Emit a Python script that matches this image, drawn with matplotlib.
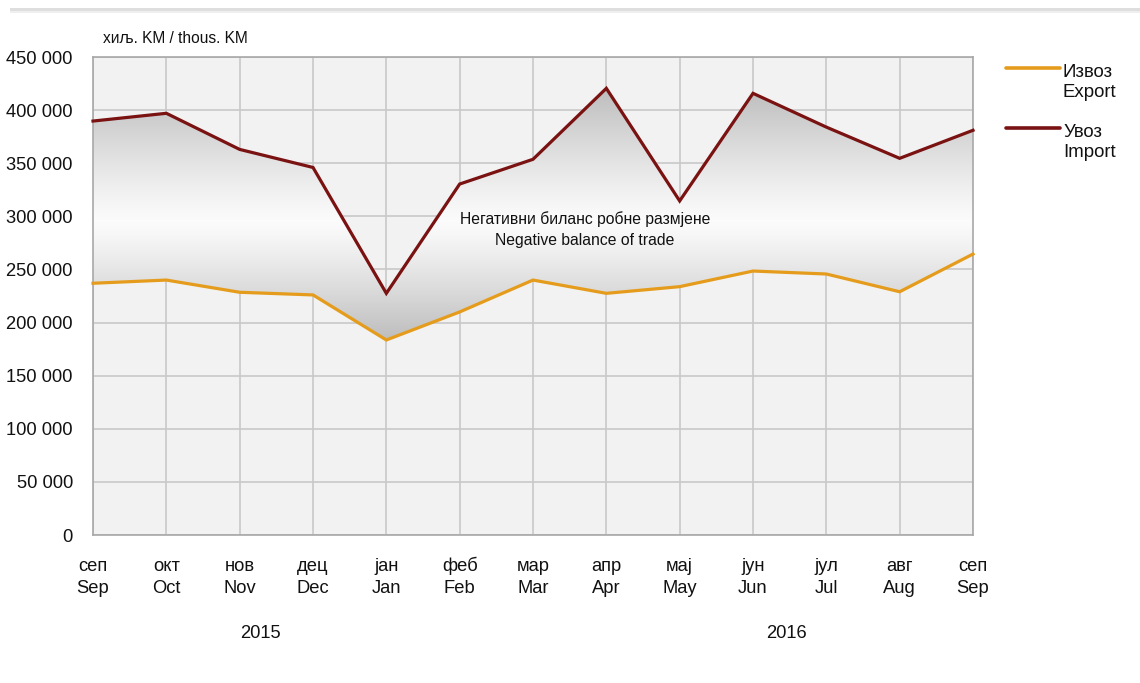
import matplotlib
matplotlib.use("Agg")
import matplotlib.pyplot as plt
import numpy as np
from matplotlib.lines import Line2D
from matplotlib.patches import Rectangle
import matplotlib.transforms as mtransforms

# ---- data ----
months_sr = ["сеп", "окт", "нов", "дец", "јан", "феб", "мар", "апр", "мај", "јун", "јул", "авг", "сеп"]
months_en = ["Sep", "Oct", "Nov", "Dec", "Jan", "Feb", "Mar", "Apr", "May", "Jun", "Jul", "Aug", "Sep"]
export_vals = [237000, 240000, 228500, 226000, 183600, 210000, 240000, 227500, 233800, 248500, 245700, 229000, 264500]
import_vals = [389700, 397000, 363000, 346000, 227500, 330400, 353700, 420500, 314500, 415800, 384000, 354600, 381000]
y_ticks = [0, 50000, 100000, 150000, 200000, 250000, 300000, 350000, 400000, 450000]
y_tick_labels = ["0", "50 000", "100 000", "150 000", "200 000", "250 000", "300 000", "350 000", "400 000", "450 000"]
years = ["2015", "2016"]
year_pos = [2.28, 9.45]

FONT = ["Liberation Sans", "DejaVu Sans"]
plt.rcParams["font.family"] = FONT

W, H = 1140, 683
fig = plt.figure(figsize=(W / 100, H / 100), dpi=100)
fig.patch.set_facecolor("white")
ax = fig.add_axes([93 / W, 1 - 535 / H, (973 - 93) / W, (535 - 57) / H])
ax.set_facecolor("#f2f2f2")

x = np.arange(len(months_en))
ax.set_xlim(0, len(x) - 1)
ax.set_ylim(0, 450000)
ax.set_yticks(y_ticks)
ax.set_yticklabels(y_tick_labels)
ax.set_xticks(x)
ax.set_xticklabels([f"{a}\n{b}" for a, b in zip(months_sr, months_en)], linespacing=1.4)
ax.tick_params(axis="both", length=0, labelsize=13.2, colors="#111111")
ax.tick_params(axis="y", pad=14.5)
ax.tick_params(axis="x", pad=41.8)
for lbl in ax.get_xticklabels():
    lbl.set_verticalalignment("baseline")
ax.grid(True, color="#c8c8c8", linewidth=1.2)
ax.set_axisbelow(True)
for s in ax.spines.values():
    s.set_color("#a8a8a8")
    s.set_linewidth(1.2)

# gradient fill between the lines
poly = ax.fill_between(x, export_vals, import_vals, facecolor="none", edgecolor="none", zorder=2)
ylo, yhi = min(export_vals), max(import_vals)
yc = 295000
yy = np.linspace(ylo, yhi, 400)
d = np.where(yy < yc, (yc - yy) / (yc - ylo), (yy - yc) / (yhi - yc))
g = 0.985 - (0.985 - 0.74) * d ** 1.2
img = np.dstack([g, g, g]).reshape(400, 1, 3)
im = ax.imshow(img, extent=[0, len(x) - 1, ylo, yhi], origin="lower", aspect="auto",
               interpolation="bilinear", zorder=2)
im.set_clip_path(poly.get_paths()[0], transform=ax.transData)
ax.set_xlim(0, len(x) - 1)
ax.set_ylim(0, 450000)

c_exp = "#e59c1c"
c_imp = "#7a1212"
ax.plot(x, export_vals, color=c_exp, linewidth=2.3, zorder=3, solid_joinstyle="miter", clip_on=False)
ax.plot(x, import_vals, color=c_imp, linewidth=2.3, zorder=3, solid_joinstyle="miter", clip_on=False)

ax.text(6.71, 287500, "Негативни биланс робне размјене\nNegative balance of trade",
        ha="center", va="center", fontsize=11.3, color="#111111", linespacing=1.45, zorder=4)

# unit label
fig.text(103 / W, 1 - 38 / H, "хиљ. KM / thous. KM", ha="left", va="center", fontsize=11.2, color="#111111")

# year labels
trans = mtransforms.blended_transform_factory(ax.transData, fig.transFigure)
for yr, p in zip(years, year_pos):
    ax.text(p, 1 - 634 / H, yr, transform=trans, ha="center", va="center", fontsize=13.2, color="#111111")

# legend (manual)
for (lab, col, ly) in [("Извоз\nExport", c_exp, 68), ("Увоз\nImport", c_imp, 128)]:
    fig.add_artist(Line2D([1006 / W, 1060 / W], [1 - ly / H, 1 - ly / H], color=col, linewidth=2.6,
                          transform=fig.transFigure, solid_capstyle="round"))
    fig.text(1063 / W, 1 - (ly - 4) / H, lab, ha="left", va="top", fontsize=13.4, color="#111111",
             linespacing=1.25)

# top band
fig.add_artist(Rectangle((10 / W, 1 - 11 / H), 1 - 10 / W, 2.5 / H, transform=fig.transFigure,
                         facecolor="#dedede", edgecolor="none"))
fig.add_artist(Rectangle((10 / W, 1 - 13 / H), 1 - 10 / W, 2 / H, transform=fig.transFigure,
                         facecolor="#efefef", edgecolor="none"))

fig.savefig("out.png", dpi=100)
